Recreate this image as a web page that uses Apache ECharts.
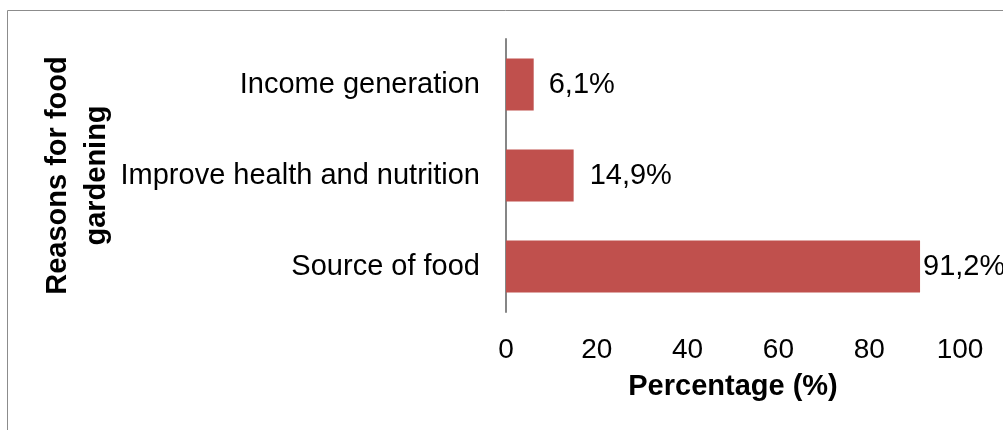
<!DOCTYPE html>
<html><head><meta charset="utf-8">
<script src="https://cdn.jsdelivr.net/npm/echarts@6/dist/echarts.min.js"></script>
<style>html,body{margin:0;padding:0;background:#fff}#c{width:1003px;height:430px}</style>
</head><body><div id="c"></div>
<script>
const categories = ["Source of food", "Improve health and nutrition", "Income generation"];
const values = [91.2, 14.9, 6.1];
const valueLabels = ["91,2%", "14,9%", "6,1%"];
const xTicks = [0, 20, 40, 60, 80, 100];
const xTitle = "Percentage (%)";
const yTitle = "Reasons for food\ngardening";

const F = "Liberation Sans, Arial, sans-serif";
const labelDist = [3, 16, 15];
const chart = echarts.init(document.getElementById('c'), null, {renderer: 'canvas'});
chart.setOption({
  animation: false,
  graphic: [{type: 'rect', shape: {x: 7.5, y: 10.5, width: 1100, height: 500},
    style: {fill: 'none', stroke: '#8c8c8c', lineWidth: 1}, silent: true}],
  grid: {left: 506, right: 43, top: 39, bottom: 118, containLabel: false},
  xAxis: {
    type: 'value', min: xTicks[0], max: xTicks[xTicks.length - 1], interval: 20,
    axisLine: {show: false}, axisTick: {show: false}, splitLine: {show: false},
    axisLabel: {color: '#000', fontFamily: F, fontSize: 28, margin: 24},
    name: xTitle, nameLocation: 'middle', nameGap: 60,
    nameTextStyle: {color: '#000', fontFamily: F, fontSize: 29, fontWeight: 'bold'}
  },
  yAxis: {
    type: 'category', data: categories,
    axisLine: {show: true, lineStyle: {color: '#868686', width: 2}},
    axisTick: {show: false},
    axisLabel: {color: '#000', fontFamily: F, fontSize: 29, margin: 26},
    name: yTitle, nameLocation: 'middle', nameGap: 390, nameRotate: 90,
    nameTextStyle: {color: '#000', fontFamily: F, fontSize: 29, fontWeight: 'bold', lineHeight: 39}
  },
  series: [{
    type: 'bar', barCategoryGap: '43%',
    itemStyle: {color: '#C0504D'},
    data: values.map((v, i) => ({value: v, label: {show: true, position: 'right', distance: labelDist[i],
      formatter: valueLabels[i], color: '#000', fontFamily: F, fontSize: 29}}))
  }]
});
</script></body></html>
